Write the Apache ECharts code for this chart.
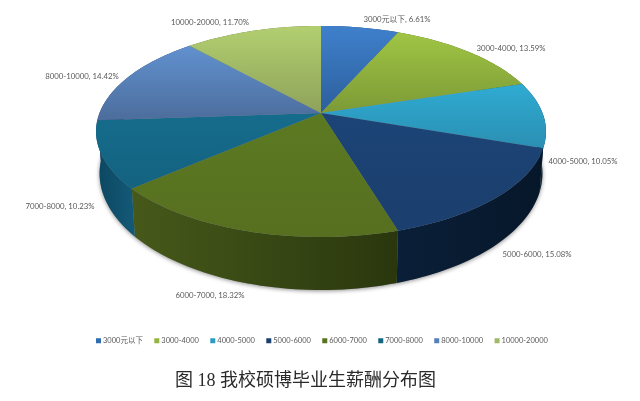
<!DOCTYPE html>
<html><head><meta charset="utf-8">
<style>html,body{margin:0;padding:0;background:#fff}#c{width:640px;height:401px}</style>
<script src="https://cdn.jsdelivr.net/npm/echarts@6/dist/echarts.min.js"></script>
</head><body><div id="c"></div>
<script>
// ---- data ----
const categories = ['3000元以下','3000-4000','4000-5000','5000-6000','6000-7000','7000-8000','8000-10000','10000-20000'];
const shares = [6.61,13.59,10.05,15.08,18.32,10.23,14.42,11.70];
const titleText = '图 18 我校硕博毕业生薪酬分布图';
// ---- styles ----
const topTop = ['#3f80cc','#a0c544','#30abd3','#1c4476','#5c7a22','#166c8c','#6191cf','#b2cf70'];
const topBot = ['#2c5f9c','#7c9a36','#2a8fb2','#1b3f6e','#566f20','#136280','#4c6d9c','#8ea25a'];
const sideL  = ['#1b3e66','#55691f','#0b2c3c','#0a1f38','#46591a','#0c4660','#2d4568','#5f6e3a'];
const sideR  = ['#1b3e66','#55691f','#0a2433','#07172a','#2a370e','#135a78','#2d4568','#5f6e3a'];
const legendColor = ['#2f6cb0','#93b43e','#2c9dc2','#1b406f','#587320','#14667f','#5480b8','#a0b965'];
const labelCenters = [[397,19],[511,48],[583,161],[537,254],[210,295],[60,206],[82,76],[210,22]];
// perspective disc projection: centre, scale, tilt
const K = 0.175;
const TOP = {cx:321, cy:113, a:221.5, b:102.3};
const BOT = {cx:321, cy:153, a:218, b:113};
function proj(d, deg){
  const t = deg*Math.PI/180, X = Math.sin(t), Y = -Math.cos(t), w = 1-K*Y;
  return [d.cx + d.a*X/w, d.cy + d.b*Y/w];
}
function arc(d, a0, a1){
  const pts = [], n = Math.max(2, Math.ceil(Math.abs(a1-a0)/1.5));
  for(let i=0;i<=n;i++) pts.push(proj(d, a0+(a1-a0)*i/n));
  return pts;
}
const total = shares.reduce((a,b)=>a+b,0);
const grad = (x2,y2,c0,c1)=>new echarts.graphic.LinearGradient(0,0,x2,y2,[{offset:0,color:c0},{offset:1,color:c1}]);

function renderSlice(idx){
  return function(params, api){
    let before = 0;
    for(let i=0;i<idx;i++) before += shares[i];
    const a0 = before/total*360, a1 = a0 + api.value(0)/total*360;
    const topArc = arc(TOP,a0,a1), botArc = arc(BOT,a0,a1);
    const [lx,ly] = labelCenters[idx];
    return {type:'group', silent:true, children:[
      {type:'polygon', z2:1, shape:{points:topArc.concat(botArc.slice().reverse())},
       style:{fill:grad(1,0,sideL[idx],sideR[idx])}},
      {type:'polygon', z2:2, shape:{points:[[TOP.cx,TOP.cy]].concat(topArc)},
       style:{fill:grad(0,1,topTop[idx],topBot[idx])}},
      {type:'text', z2:3, style:{text:categories[idx]+', '+shares[idx].toFixed(2)+'%',
        x:lx, y:ly, align:'center', verticalAlign:'middle', fill:'#595959',
        font:'7.8px Lato, "Noto Sans CJK SC", sans-serif'}}
    ]};
  };
}
function renderShadow(){
  return {type:'polygon', z2:0, silent:true, shape:{points:arc(BOT,0,360)},
    style:{fill:'#8a8a8a', shadowBlur:4, shadowColor:'rgba(0,0,0,0.45)', shadowOffsetY:1}};
}
const series = categories.map((name,i)=>({
  type:'custom', name, coordinateSystem:'none', z:2, data:[[shares[i]]],
  itemStyle:{color:legendColor[i]}, renderItem:renderSlice(i), animation:false
}));
series.unshift({type:'custom', name:'shadow', coordinateSystem:'none', z:1, data:[[0]], renderItem:renderShadow, animation:false});

const chart = echarts.init(document.getElementById('c'), null, {renderer:'canvas'});
chart.setOption({
  animation:false,
  backgroundColor:'#ffffff',
  title:{text:titleText, left:175, top:372, padding:0,
    textStyle:{fontFamily:'"Liberation Serif","Noto Sans CJK SC",serif', fontWeight:'normal', fontSize:18, color:'#2a2a2a'}},
  legend:{data:categories, left:96, top:337, icon:'rect', itemWidth:5, itemHeight:5, itemGap:11.4, padding:0,
    selectedMode:false,
    textStyle:{fontFamily:'Lato,"Noto Sans CJK SC",sans-serif', fontSize:7.5, color:'#595959', padding:[0,0,0,-3]}},
  series
});
</script></body></html>
